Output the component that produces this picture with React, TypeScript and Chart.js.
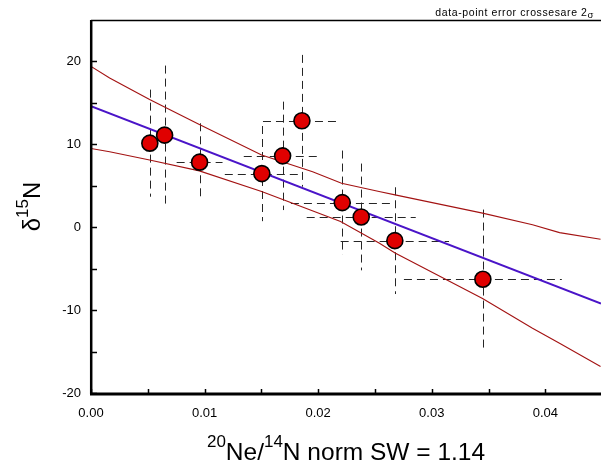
import React, { useEffect, useRef } from "react";
import { Chart, registerables } from "chart.js";

Chart.register(...registerables);

// ---- data ----
const xValues = [0.00518, 0.00648, 0.00956, 0.01504, 0.01687, 0.01857, 0.02212, 0.02379, 0.02675, 0.0345];
const yValues = [10.14, 11.11, 7.85, 6.47, 8.61, 12.84, 2.97, 1.24, -1.62, -6.28];
const xErrors = [0, 0, 0.00202, 0.00326, 0.00342, 0.00343, 0.00452, 0.0048, 0.00477, 0.00695];
const yErrors = [6.46, 8.39, 4.69, 5.74, 6.54, 7.95, 6.28, 6.44, 6.44, 8.41];

const fitX = [0, 0.0449];
const fitY = [14.6, -9.2];

const upperX = [0, 0.00164, 0.00516, 0.00954, 0.01502, 0.01951, 0.02206, 0.02536, 0.02677, 0.03447, 0.03887, 0.04125, 0.04486];
const upperY = [19.4, 18.0, 15.4, 12.4, 8.7, 6.7, 5.3, 4.3, 3.9, 1.7, 0.3, -0.65, -1.45];
const lowerX = [0, 0.00164, 0.00516, 0.00954, 0.01502, 0.01775, 0.02197, 0.02536, 0.02677, 0.03447, 0.03887, 0.04125, 0.04486];
const lowerY = [9.5, 9.1, 8.1, 6.8, 4.3, 2.9, 0.7, -1.9, -3.1, -8.6, -12.2, -14.0, -16.8];

const xTicks = [0, 0.01, 0.02, 0.03, 0.04];
const xMinorTicks = [0.005, 0.015, 0.025, 0.035];
const yTicks = [-20, -10, 0, 10, 20];
const yMinorTicks = [-15, -5, 5, 15];

const X_MIN = 0;
const X_MAX = 0.0449;
const Y_MIN = -20;
const Y_MAX = 25;

const FONT = "'Liberation Sans', Arial, Helvetica, sans-serif";

type Seg = { t: string; sup?: boolean; sub?: boolean };

function drawSegs(ctx: CanvasRenderingContext2D, segs: Seg[], size: number, supSize: number, raise: number, align: "center" | "right", spacing = 0) {
  (ctx as any).letterSpacing = `${spacing}px`;
  const widths = segs.map((s) => {
    ctx.font = `${s.sup || s.sub ? supSize : size}px ${FONT}`;
    return ctx.measureText(s.t).width;
  });
  const total = widths.reduce((a, b) => a + b, 0);
  let x = align === "center" ? -total / 2 : -total;
  segs.forEach((s, i) => {
    ctx.font = `${s.sup || s.sub ? supSize : size}px ${FONT}`;
    const dy = s.sup ? -raise : s.sub ? raise : 0;
    ctx.fillText(s.t, x, dy);
    x += widths[i];
  });
  (ctx as any).letterSpacing = "0px";
}

const decor = {
  id: "decor",
  beforeDatasetsDraw(chart: any) {
    const { ctx, chartArea, scales } = chart;
    const xs = scales.x;
    const ys = scales.y;
    ctx.save();
    ctx.beginPath();
    ctx.rect(chartArea.left, chartArea.top, chartArea.right - chartArea.left, chartArea.bottom - chartArea.top);
    ctx.clip();
    ctx.strokeStyle = "#262626";
    ctx.lineWidth = 1;
    ctx.setLineDash([8, 5]);
    for (let i = 0; i < xValues.length; i++) {
      const px = Math.round(xs.getPixelForValue(xValues[i])) + 0.5;
      const py = Math.round(ys.getPixelForValue(yValues[i])) + 0.5;
      ctx.beginPath();
      ctx.moveTo(px, ys.getPixelForValue(yValues[i] + yErrors[i]));
      ctx.lineTo(px, ys.getPixelForValue(yValues[i] - yErrors[i]));
      ctx.stroke();
      if (xErrors[i] > 0) {
        ctx.beginPath();
        ctx.moveTo(xs.getPixelForValue(xValues[i] - xErrors[i]), py);
        ctx.lineTo(xs.getPixelForValue(xValues[i] + xErrors[i]), py);
        ctx.stroke();
      }
    }
    ctx.restore();
  },
  afterDraw(chart: any) {
    const { ctx, chartArea, scales } = chart;
    const xs = scales.x;
    const ys = scales.y;
    const { left, right, top, bottom } = chartArea;
    ctx.save();
    ctx.strokeStyle = "#000";
    ctx.setLineDash([]);
    // top border
    ctx.lineWidth = 1.3;
    ctx.beginPath();
    ctx.moveTo(left, top + 0.5);
    ctx.lineTo(right, top + 0.5);
    ctx.stroke();
    // y axis
    ctx.lineWidth = 2.5;
    ctx.beginPath();
    ctx.moveTo(left + 0.2, top);
    ctx.lineTo(left + 0.2, bottom + 1.5);
    ctx.stroke();
    // x axis
    ctx.lineWidth = 3;
    ctx.beginPath();
    ctx.moveTo(left - 1, bottom + 1);
    ctx.lineTo(right, bottom + 1);
    ctx.stroke();
    // ticks
    ctx.lineWidth = 1.5;
    [...yTicks, ...yMinorTicks].forEach((v) => {
      const py = Math.round(ys.getPixelForValue(v)) + 0.5;
      ctx.beginPath();
      ctx.moveTo(left, py);
      ctx.lineTo(left + 6, py);
      ctx.stroke();
    });
    [...xTicks, ...xMinorTicks].forEach((v) => {
      const px = Math.round(xs.getPixelForValue(v)) + 0.5;
      ctx.beginPath();
      ctx.moveTo(px, bottom);
      ctx.lineTo(px, bottom - 4);
      ctx.stroke();
    });

    ctx.fillStyle = "#000";
    ctx.textBaseline = "alphabetic";
    // x title
    ctx.save();
    ctx.translate((left + right) / 2, 460);
    drawSegs(ctx, [{ t: "20", sup: true }, { t: "Ne/" }, { t: "14", sup: true }, { t: "N norm SW = 1.14" }], 24.5, 17, 13, "center");
    ctx.restore();
    // y title
    ctx.save();
    ctx.translate(40, (top + bottom) / 2);
    ctx.rotate(-Math.PI / 2);
    drawSegs(ctx, [{ t: "δ" }, { t: "15", sup: true }, { t: "N" }], 24, 17, 12, "center");
    ctx.restore();
    // annotation
    ctx.save();
    ctx.translate(594, 16);
    drawSegs(ctx, [{ t: "data-point error crossesare 2" }, { t: "σ", sub: true }], 10.5, 9.5, 2, "right", 0.6);
    ctx.restore();
    ctx.restore();
  },
};

export default function App() {
  const ref = useRef<HTMLCanvasElement | null>(null);
  useEffect(() => {
    if (!ref.current) return;
    Chart.defaults.font.family = FONT;
    const pts = xValues.map((x, i) => ({ x, y: yValues[i] }));
    const chart = new Chart(ref.current, {
      type: "scatter",
      data: {
        datasets: [
          {
            label: "data",
            data: pts,
            pointRadius: 8,
            pointHoverRadius: 8,
            pointBackgroundColor: "#e00000",
            pointBorderColor: "#000",
            pointBorderWidth: 1.6,
            order: 0,
          },
          {
            label: "fit",
            data: fitX.map((x, i) => ({ x, y: fitY[i] })),
            showLine: true,
            pointRadius: 0,
            borderColor: "#4a14c8",
            borderWidth: 2,
            order: 1,
          },
          {
            label: "upper",
            data: upperX.map((x, i) => ({ x, y: upperY[i] })),
            showLine: true,
            pointRadius: 0,
            borderColor: "#a31212",
            borderWidth: 1.1,
            order: 2,
          },
          {
            label: "lower",
            data: lowerX.map((x, i) => ({ x, y: lowerY[i] })),
            showLine: true,
            pointRadius: 0,
            borderColor: "#a31212",
            borderWidth: 1.1,
            order: 2,
          },
        ],
      },
      options: {
        animation: false,
        responsive: false,
        devicePixelRatio: 1,
        layout: { autoPadding: false, padding: { top: 20, right: 0, bottom: 0, left: 0 } },
        plugins: { legend: { display: false }, tooltip: { enabled: false } },
        events: [],
        scales: {
          x: {
            type: "linear",
            min: X_MIN,
            max: X_MAX,
            grid: { display: false, drawTicks: false },
            border: { display: false },
            afterFit: (s: any) => {
              s.height = 69;
              s.paddingLeft = 0;
              s.paddingRight = 0;
            },
            afterBuildTicks: (s: any) => {
              s.ticks = xTicks.map((v) => ({ value: v }));
            },
            ticks: {
              color: "#000",
              font: { size: 13, family: FONT },
              padding: 13,
              maxRotation: 0,
              autoSkip: false,
              callback: (v: any) => Number(v).toFixed(2),
            },
          },
          y: {
            type: "linear",
            min: Y_MIN,
            max: Y_MAX,
            grid: { display: false, drawTicks: false },
            border: { display: false },
            afterFit: (s: any) => {
              s.width = 91;
              s.paddingTop = 0;
              s.paddingBottom = 0;
            },
            afterBuildTicks: (s: any) => {
              s.ticks = yTicks.map((v) => ({ value: v }));
            },
            ticks: {
              color: "#000",
              font: { size: 13, family: FONT },
              padding: 10,
              autoSkip: false,
              callback: (v: any) => String(v),
            },
          },
        },
      },
      plugins: [decor],
    });
    return () => chart.destroy();
  }, []);
  return (
    <div style={{ position: "absolute", left: 0, top: 0, width: 601, height: 462, background: "#fff" }}>
      <canvas ref={ref} width={601} height={462} style={{ display: "block" }} />
    </div>
  );
}
